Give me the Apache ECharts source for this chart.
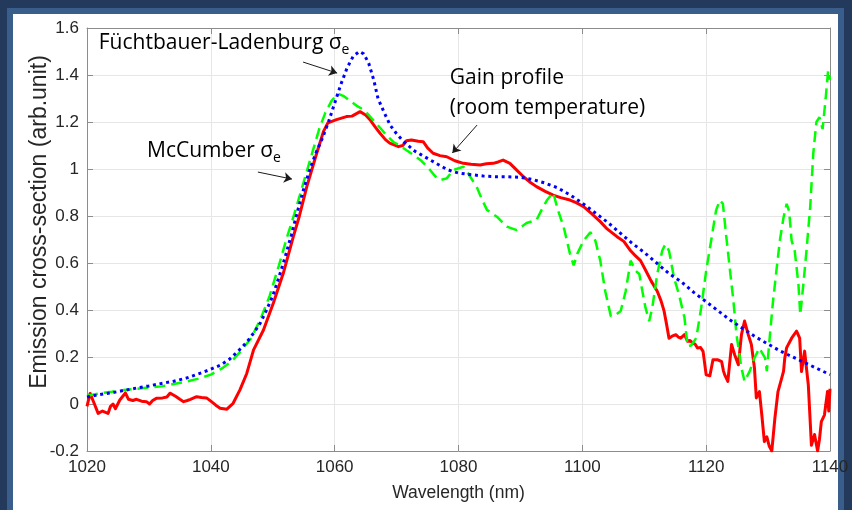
<!DOCTYPE html>
<html>
<head>
<meta charset="utf-8">
<title>Emission cross-section vs wavelength</title>
<script src="https://cdn.jsdelivr.net/npm/echarts@6/dist/echarts.min.js"></script>
<style>
  html, body { margin: 0; padding: 0; }
  #frame { position: relative; width: 852px; height: 510px; background: #243a5c; overflow: hidden; }
  #panel { position: absolute; left: 13px; top: 14px; width: 825px; height: 500px; background: #ffffff;
           box-shadow: 0 0 0 6px #3a5e8c; }
  #chart { position: absolute; left: 0; top: 0; width: 852px; height: 510px; }
</style>
</head>
<body>
<div id="frame">
  <div id="panel"></div>
  <div id="chart"></div>
</div>
<script>
// Axis ticks
const wavelengthTicks = [1020, 1040, 1060, 1080, 1100, 1120, 1140];
const sigmaTicks = [-0.2, 0, 0.2, 0.4, 0.6, 0.8, 1, 1.2, 1.4, 1.6];

// Füchtbauer-Ladenburg emission cross-section
const flWavelength = [1020, 1022, 1024, 1026, 1028, 1030, 1032, 1034, 1036, 1038, 1040, 1041.5, 1043, 1044, 1045, 1046, 1047, 1048, 1049, 1050,
  1051, 1052, 1053, 1054, 1055, 1056, 1057, 1058, 1059, 1060, 1061, 1062, 1063, 1064, 1064.7, 1065.5, 1066.3, 1067, 1068, 1069,
  1070, 1071, 1072, 1073, 1074, 1075, 1076, 1077, 1078, 1079, 1080, 1082, 1084, 1086, 1088, 1090, 1092, 1094, 1096, 1098,
  1100, 1102, 1104, 1106, 1108, 1110, 1112, 1114, 1116, 1118, 1120, 1122, 1124, 1126, 1128, 1130, 1132, 1134, 1136, 1138, 1140];
const flSigma = [0.03, 0.04, 0.048, 0.058, 0.068, 0.077, 0.087, 0.097, 0.11, 0.128, 0.148, 0.165, 0.19, 0.215, 0.24, 0.27, 0.305, 0.345, 0.4, 0.46,
  0.54, 0.625, 0.72, 0.82, 0.915, 1.0, 1.07, 1.13, 1.2, 1.28, 1.36, 1.43, 1.48, 1.5, 1.49, 1.45, 1.38, 1.3, 1.24, 1.185,
  1.15, 1.12, 1.097, 1.075, 1.06, 1.045, 1.03, 1.015, 1.0, 0.99, 0.983, 0.976, 0.97, 0.967, 0.967, 0.965, 0.955, 0.94, 0.92, 0.89,
  0.855, 0.815, 0.775, 0.73, 0.685, 0.645, 0.6, 0.555, 0.52, 0.475, 0.435, 0.395, 0.355, 0.32, 0.285, 0.255, 0.225, 0.2, 0.175, 0.15, 0.125];

// McCumber emission cross-section
const mcWavelength = [1020, 1022, 1024, 1026, 1028, 1030, 1032, 1034, 1036, 1038, 1040, 1042, 1043.5, 1045, 1046.5, 1048, 1049.5, 1051, 1052.3, 1053.5,
  1054.5, 1055.5, 1056.5, 1057.5, 1058.5, 1059.5, 1060.5, 1061.5, 1062.5, 1063.5, 1064.5, 1065.5, 1066.5, 1067.5, 1068.5, 1069.5, 1070.5, 1071.6, 1073, 1074,
  1075.4, 1076.2, 1077, 1078.1, 1079.2, 1080.8, 1081.9, 1083, 1083.8, 1084.6, 1086.2, 1087.8, 1089.4, 1091, 1092.6, 1093.5, 1094.3, 1095.3, 1096, 1097,
  1098, 1098.6, 1099.2, 1100.2, 1101.3, 1102.1, 1102.9, 1103.7, 1104.6, 1105.4, 1106.2, 1107, 1107.8, 1108.6, 1109.2, 1109.7, 1110.2, 1110.8, 1111.3, 1112.1,
  1112.9, 1113.4, 1114, 1114.8, 1115.6, 1116.5, 1117, 1117.6, 1118.4, 1119.2, 1120, 1120.8, 1121.6, 1122.2, 1122.7, 1123.2, 1123.8, 1124.4, 1124.9, 1125.7,
  1126.2, 1127, 1127.8, 1128.6, 1129.5, 1129.8, 1130.3, 1130.8, 1131.4, 1131.9, 1132.5, 1133, 1133.4, 1133.8, 1134.3, 1134.9, 1135.2, 1135.7, 1136.2, 1136.8,
  1137.3, 1137.8, 1138.3, 1138.8, 1139.3, 1139.7, 1140];
const mcSigma = [0.035, 0.045, 0.052, 0.06, 0.065, 0.07, 0.075, 0.085, 0.095, 0.108, 0.125, 0.155, 0.185, 0.23, 0.28, 0.36, 0.46, 0.59, 0.71, 0.81,
  0.9, 0.99, 1.08, 1.17, 1.24, 1.29, 1.32, 1.31, 1.29, 1.27, 1.255, 1.23, 1.2, 1.17, 1.14, 1.115, 1.1, 1.08, 1.055, 1.035,
  0.996, 0.97, 0.953, 0.96, 0.996, 1.01, 0.967, 0.92, 0.87, 0.826, 0.797, 0.755, 0.74, 0.77, 0.783, 0.83, 0.868, 0.9, 0.83, 0.752,
  0.64, 0.59, 0.64, 0.695, 0.731, 0.695, 0.61, 0.48, 0.374, 0.38, 0.396, 0.48, 0.61, 0.567, 0.553, 0.48, 0.41, 0.353, 0.41, 0.553,
  0.652, 0.68, 0.652, 0.538, 0.467, 0.367, 0.245, 0.25, 0.281, 0.41, 0.567, 0.695, 0.824, 0.867, 0.852, 0.724, 0.58, 0.438, 0.295, 0.153,
  0.096, 0.138, 0.196, 0.238, 0.196, 0.14, 0.295, 0.438, 0.58, 0.695, 0.795, 0.852, 0.82, 0.695, 0.652, 0.51, 0.38, 0.51, 0.652, 0.838,
  1.066, 1.2, 1.22, 1.17, 1.3, 1.42, 1.38];

// Measured gain profile at room temperature
const gainWavelength = [1020, 1020.5, 1021.2, 1021.8, 1022.5, 1023.4, 1023.8, 1024.2, 1024.6, 1025.3, 1026.2, 1026.7, 1027.4, 1028, 1028.8, 1029.6, 1030.1, 1030.6, 1031.2, 1032.2,
  1032.9, 1033.4, 1034.3, 1035, 1035.6, 1036.2, 1036.7, 1037.7, 1038.5, 1039.3, 1040, 1040.8, 1041.5, 1042.6, 1043.6, 1044.7, 1045.8, 1046.9, 1048.5, 1050.1,
  1051.7, 1053.3, 1054.3, 1055.5, 1057.1, 1058.2, 1058.9, 1060.3, 1061.9, 1062.8, 1064.1, 1065, 1065.7, 1066.5, 1067.3, 1068.2, 1068.9, 1070.3, 1071, 1071.6,
  1072.4, 1073.5, 1074.3, 1075, 1075.9, 1077, 1078.1, 1079.4, 1080.8, 1082, 1083.5, 1084.5, 1085.6, 1086.4, 1087.2, 1087.8, 1088.3, 1089.4, 1090.5, 1091.5,
  1092.6, 1094, 1095.3, 1096.5, 1098, 1099, 1100.2, 1101.5, 1102.9, 1104, 1105.6, 1106.7, 1107.8, 1108.6, 1109.4, 1110.2, 1111.1, 1112.1, 1112.7, 1113.2,
  1113.6, 1114, 1114.6, 1115.1, 1115.5, 1115.9, 1116.5, 1117, 1117.4, 1117.8, 1118.2, 1118.6, 1119.1, 1119.5, 1120, 1120.6, 1121.1, 1121.9, 1122.5, 1122.8,
  1123, 1123.5, 1124.1, 1124.6, 1125.2, 1125.7, 1126.2, 1126.8, 1127.3, 1127.8, 1128.1, 1128.6, 1129, 1129.4, 1129.8, 1130.2, 1130.6, 1131.1, 1131.6, 1132.2,
  1132.5, 1132.7, 1133, 1133.8, 1134.6, 1134.9, 1135.1, 1135.4, 1135.9, 1136.5, 1137, 1137.5, 1138, 1138.3, 1138.6, 1139.1, 1139.6, 1139.8, 1140];
const gainValue = [-0.01, 0.045, 0.0, -0.04, -0.03, -0.04, -0.01, 0.0, -0.02, 0.017, 0.047, 0.02, 0.015, 0.02, 0.012, 0.01, 0.0, 0.015, 0.024, 0.026,
  0.03, 0.046, 0.033, 0.02, 0.01, 0.015, 0.02, 0.031, 0.028, 0.026, 0.012, -0.005, -0.018, -0.022, 0.003, 0.06, 0.13, 0.23, 0.315, 0.43,
  0.556, 0.71, 0.8, 0.925, 1.067, 1.16, 1.196, 1.21, 1.223, 1.225, 1.244, 1.23, 1.21, 1.18, 1.153, 1.125, 1.11, 1.095, 1.1, 1.12,
  1.123, 1.118, 1.116, 1.09, 1.067, 1.057, 1.052, 1.035, 1.024, 1.02, 1.017, 1.022, 1.024, 1.03, 1.038, 1.03, 1.024, 0.995, 0.967, 0.945,
  0.925, 0.905, 0.889, 0.878, 0.868, 0.857, 0.84, 0.81, 0.776, 0.745, 0.712, 0.692, 0.652, 0.63, 0.61, 0.57, 0.524, 0.48, 0.44, 0.396,
  0.34, 0.28, 0.29, 0.295, 0.285, 0.28, 0.295, 0.267, 0.27, 0.26, 0.255, 0.238, 0.24, 0.224, 0.124, 0.12, 0.188, 0.188, 0.18, 0.14,
  0.124, 0.096, 0.253, 0.21, 0.167, 0.295, 0.353, 0.295, 0.253, 0.153, 0.026, 0.053, -0.05, -0.16, -0.14, -0.18, -0.2, -0.06, 0.053, 0.11,
  0.14, 0.196, 0.24, 0.28, 0.31, 0.31, 0.28, 0.138, 0.225, 0.08, -0.176, -0.13, -0.2, -0.15, -0.075, -0.047, 0.053, -0.03, 0.065];

const pairs = (xs, ys) => xs.map((x, i) => [x, ys[i]]);

const tickFont = '"Liberation Sans", Arial, sans-serif';
const noteFont = '"Open Sans", "Noto Sans", sans-serif';
const axisGrey = '#8c8c8c';
const ink = '#262626';

const xStep = wavelengthTicks[1] - wavelengthTicks[0];
const yStep = 0.2;

const chart = echarts.init(document.getElementById('chart'), null, { renderer: 'canvas' });

const baseX = {
  type: 'value',
  min: wavelengthTicks[0],
  max: wavelengthTicks[wavelengthTicks.length - 1],
  interval: xStep
};
const baseY = {
  type: 'value',
  min: sigmaTicks[0],
  max: sigmaTicks[sigmaTicks.length - 1],
  interval: yStep
};

// Annotation arrows (in data coordinates)
const arrows = [
  [[1054.9, 1.455], [1060.4, 1.408]],
  [[1047.6, 0.987], [1053.1, 0.957]],
  [[1083.0, 1.187], [1079.0, 1.068]]
];

chart.setOption({
  animation: false,
  backgroundColor: 'transparent',
  grid: { left: 87, right: 22, top: 28, bottom: 59, containLabel: false, outerBoundsMode: 'none' },
  xAxis: [
    Object.assign({}, baseX, {
      position: 'bottom',
      name: 'Wavelength (nm)',
      nameLocation: 'middle',
      nameGap: 33,
      nameMoveOverlap: false,
      nameTextStyle: { fontFamily: tickFont, fontSize: 17.5, color: ink },
      axisLine: { show: true, onZero: false, lineStyle: { color: axisGrey, width: 1 } },
      axisTick: { show: true, inside: true, length: 6, lineStyle: { color: axisGrey } },
      axisLabel: { show: true, margin: 8, fontFamily: tickFont, fontSize: 17, color: ink, formatter: v => String(v) },
      splitLine: { show: true, lineStyle: { color: '#e6e6e6', width: 1 } }
    }),
    Object.assign({}, baseX, {
      position: 'top',
      axisLine: { show: true, onZero: false, lineStyle: { color: axisGrey, width: 1 } },
      axisTick: { show: true, inside: true, length: 6, lineStyle: { color: axisGrey } },
      axisLabel: { show: false },
      splitLine: { show: false }
    })
  ],
  yAxis: [
    Object.assign({}, baseY, {
      position: 'left',
      name: 'Emission cross-section (arb.unit)',
      nameLocation: 'middle',
      nameRotate: 90,
      nameGap: 36,
      nameMoveOverlap: false,
      nameTextStyle: { fontFamily: tickFont, fontSize: 23, color: ink, padding: [0, 0, 0, 35] },
      axisLine: { show: true, onZero: false, lineStyle: { color: axisGrey, width: 1 } },
      axisTick: { show: true, inside: true, length: 6, lineStyle: { color: axisGrey } },
      axisLabel: { show: true, margin: 8, fontFamily: tickFont, fontSize: 17, color: ink,
                   formatter: v => String(parseFloat(Number(v).toFixed(1))) },
      splitLine: { show: true, lineStyle: { color: '#e6e6e6', width: 1 } }
    }),
    Object.assign({}, baseY, {
      position: 'right',
      axisLine: { show: true, onZero: false, lineStyle: { color: axisGrey, width: 1 } },
      axisTick: { show: true, inside: true, length: 6, lineStyle: { color: axisGrey } },
      axisLabel: { show: false },
      splitLine: { show: false }
    })
  ],
  series: [
    {
      name: 'Gain profile',
      type: 'line',
      xAxisIndex: 0, yAxisIndex: 0,
      data: pairs(gainWavelength, gainValue),
      showSymbol: false,
      clip: true,
      lineStyle: { color: '#ff0000', width: 3, join: 'round' },
      z: 2
    },
    {
      name: 'McCumber',
      type: 'line',
      xAxisIndex: 0, yAxisIndex: 0,
      data: pairs(mcWavelength, mcSigma),
      showSymbol: false,
      clip: true,
      lineStyle: { color: '#00ff00', width: 2.5, type: [11, 6] },
      z: 3
    },
    {
      name: 'Füchtbauer-Ladenburg',
      type: 'line',
      xAxisIndex: 0, yAxisIndex: 0,
      data: pairs(flWavelength, flSigma),
      showSymbol: false,
      clip: true,
      lineStyle: { color: '#0000ff', width: 3, type: [3, 3.7] },
      z: 4,
      markLine: {
        silent: true,
        symbol: ['none', 'arrow'],
        symbolSize: 8,
        label: { show: false },
        lineStyle: { color: '#1a1a1a', width: 1, type: 'solid' },
        emphasis: { disabled: true },
        data: arrows.map(a => [{ coord: a[0] }, { coord: a[1] }])
      }
    }
  ]
});

// Text annotations, anchored in data coordinates
function px(p) { return chart.convertToPixel({ xAxisIndex: 0, yAxisIndex: 0 }, p); }
const sub = { fontFamily: noteFont, fontSize: 14, lineHeight: 14, verticalAlign: 'bottom', fill: '#000' };
const main = { fontFamily: noteFont, fontSize: 21, lineHeight: 28, fill: '#000' };
const notes = [
  { at: [1021.9, 1.534], text: '{m|Füchtbauer-Ladenburg σ}{s|e}' },
  { at: [1029.7, 1.078], text: '{m|McCumber σ}{s|e}' }
];
const graphics = notes.map(n => {
  const p = px(n.at);
  return {
    type: 'text', x: p[0], y: p[1], silent: true, z: 10,
    style: { text: n.text, align: 'left', verticalAlign: 'middle', rich: { m: main, s: sub } }
  };
});
const g = px([1078.6, 1.325]);
graphics.push({
  type: 'text', x: g[0], y: g[1], silent: true, z: 10,
  style: { text: 'Gain profile\n(room temperature)', fontFamily: noteFont, fontSize: 21, lineHeight: 30,
           fill: '#000', align: 'left', verticalAlign: 'middle' }
});
chart.setOption({ graphic: graphics });
</script>
</body>
</html>
